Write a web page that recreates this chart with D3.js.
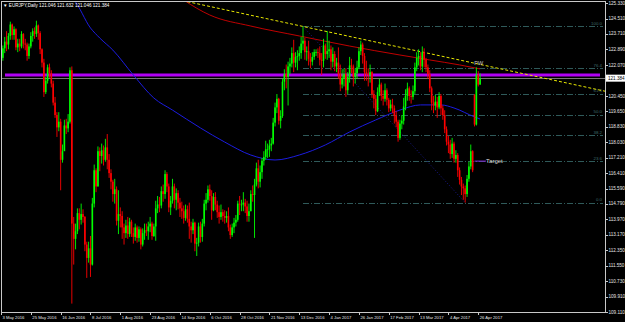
<!DOCTYPE html>
<html>
<head>
<meta charset="utf-8">
<script src="https://cdn.jsdelivr.net/npm/d3@7"></script>
<style>
  body { margin: 0; background: #000; }
  svg { display: block; }
  text { font-family: "Liberation Sans", Arial, sans-serif; }
</style>
</head>
<body>
<div id="chart"></div>
<script>
// EURJPY daily, 3 May 2016 .. 27 Apr 2017 (bar index 0..257)
const dateLabels = ["3 May 2016", "25 May 2016", "16 Jun 2016", "8 Jul 2016", "1 Aug 2016", "23 Aug 2016",
  "14 Sep 2016", "6 Oct 2016", "28 Oct 2016", "21 Nov 2016", "13 Dec 2016", "4 Jan 2017", "26 Jan 2017",
  "17 Feb 2017", "13 Mar 2017", "4 Apr 2017", "26 Apr 2017"];
const dateLabelBars = [0, 16, 32, 48, 64, 80, 96, 112, 128, 144, 160, 176, 192, 208, 224, 240, 256];

const priceTicks = [125.33, 124.51, 123.71, 122.89, 122.07, 120.45, 119.65, 118.83, 118.03, 117.21,
  116.41, 115.59, 114.79, 113.97, 113.17, 112.35, 111.55, 110.73, 109.91, 109.11];

const opens = [
  122.80,122.45,122.95,123.30,123.15,123.60,124.20,123.65,123.95,123.00,
  123.20,123.05,123.70,123.20,123.15,122.55,123.05,123.60,123.85,123.70,
  124.15,123.75,122.90,122.20,120.65,121.25,121.95,121.65,121.10,120.10,
  119.45,118.80,119.10,117.10,117.55,118.90,118.75,119.10,121.80,113.75,
  112.95,113.35,114.30,113.95,114.25,114.10,112.65,111.95,112.45,111.60,
  114.80,116.55,115.70,117.55,117.30,117.60,117.10,117.75,117.10,116.40,
  115.95,115.30,115.55,113.90,114.25,114.15,113.55,113.25,113.65,113.20,
  113.85,113.25,113.05,113.55,113.00,113.45,112.65,113.25,113.40,113.35,
  113.60,113.75,113.10,113.60,114.55,114.75,114.70,115.45,115.30,116.35,
  115.70,114.60,114.95,115.70,115.00,115.35,114.85,114.55,114.40,114.05,
  114.50,114.00,113.60,113.40,113.80,112.70,112.75,113.60,113.05,113.75,
  114.80,115.00,115.55,115.20,114.45,115.15,114.75,114.35,114.10,114.35,
  114.15,114.05,114.15,113.55,113.15,113.55,113.80,113.95,114.80,114.75,
  114.75,114.85,114.65,114.15,114.40,115.30,115.25,115.80,116.65,115.95,
  116.45,117.05,117.25,117.65,117.65,117.85,117.95,119.05,119.85,120.30,
  119.15,119.40,121.20,121.60,121.45,122.00,122.15,122.70,122.20,122.50,
  122.55,122.70,123.20,123.35,122.75,122.80,122.40,122.25,122.50,122.75,
  122.75,122.70,122.35,122.30,123.10,122.65,122.80,122.90,122.25,122.65,
  122.00,122.20,121.60,121.05,121.40,121.60,120.75,121.45,122.05,122.00,
  121.45,121.65,121.95,122.80,123.15,122.55,121.70,121.60,121.55,121.70,
  120.55,120.30,119.65,120.65,121.05,120.45,120.30,120.75,120.25,119.80,
  120.00,119.80,119.40,119.10,118.25,119.00,119.15,119.90,120.45,120.85,
  120.45,120.40,120.70,121.95,122.45,122.55,122.00,122.75,122.35,121.95,
  121.60,120.85,120.10,119.95,120.15,119.85,120.45,119.80,119.45,118.70,
  118.05,117.90,117.40,117.95,117.15,117.35,116.55,116.05,115.70,115.60,
  115.30,116.10,116.75,117.55,120.50,118.95,121.55,121.046];

const highs = [
  122.95,123.10,123.55,123.85,123.75,124.35,124.25,124.10,124.00,123.45,
  123.45,123.85,123.75,123.45,123.25,123.20,123.80,124.00,124.05,124.40,
  124.20,123.85,122.95,122.40,121.45,122.10,122.15,121.80,121.25,120.40,
  119.60,119.60,119.25,117.90,119.20,119.25,119.50,121.95,122.00,114.10,
  113.75,114.55,114.55,114.80,114.50,114.15,112.80,112.80,113.10,115.10,
  116.85,116.65,117.80,117.75,117.95,117.85,118.20,118.45,117.40,116.60,
  116.05,116.10,115.70,115.50,114.60,114.40,113.75,113.95,114.10,114.05,
  113.95,113.55,113.75,113.65,113.60,113.55,113.50,113.75,113.75,113.85,
  114.10,113.85,113.75,114.95,115.20,115.15,115.70,115.80,116.55,116.45,
  115.85,115.20,116.10,115.85,115.60,115.50,115.10,114.90,114.70,114.75,
  114.70,114.85,113.85,114.00,113.85,113.00,113.80,113.85,114.00,115.00,
  115.35,115.75,115.80,115.50,115.35,115.40,114.95,114.70,114.75,114.50,
  114.45,114.40,114.60,113.70,113.75,114.05,114.20,114.95,115.20,115.00,
  115.40,115.05,114.95,114.80,115.50,115.75,116.10,116.95,117.10,116.80,
  117.20,117.55,118.10,117.95,118.15,118.25,119.30,120.10,120.55,120.35,
  119.70,121.35,121.85,122.10,122.25,122.45,123.00,123.40,122.75,122.85,
  123.05,123.55,124.10,123.50,123.05,123.35,122.70,122.75,122.90,122.90,
  122.95,123.05,122.70,123.45,123.20,123.85,123.35,123.10,123.00,122.80,
  122.45,123.00,122.10,121.85,121.90,121.90,121.70,122.50,122.40,122.10,
  121.90,122.30,123.00,123.35,123.25,122.70,122.30,121.90,122.10,121.75,
  120.75,120.50,120.90,121.35,121.15,120.75,121.10,120.85,120.35,120.25,
  120.30,119.95,119.65,119.20,119.20,119.45,120.35,120.80,121.15,120.95,
  120.75,121.00,122.20,122.75,122.90,122.75,123.05,122.95,122.45,122.10,
  121.80,120.95,120.45,120.50,120.40,120.65,120.55,119.95,119.70,118.85,
  118.35,118.15,118.25,118.05,117.60,117.45,116.70,116.20,115.85,115.75,
  116.30,117.00,117.90,117.60,120.55,121.95,121.75,121.632];

const lows = [
  122.20,122.30,122.70,122.80,122.90,123.40,123.40,123.40,122.85,122.75,
  122.80,122.95,122.95,122.85,122.30,122.40,122.95,123.30,123.45,123.55,
  123.40,122.65,121.95,120.40,120.55,121.10,121.40,120.90,119.95,119.30,
  118.30,118.60,115.50,116.95,117.60,118.45,118.55,119.00,109.55,111.60,
  112.40,113.20,113.45,113.70,113.80,112.30,110.90,111.70,110.95,111.55,
  114.60,115.40,115.70,116.50,116.90,116.80,117.00,116.60,116.15,115.55,
  114.90,114.80,113.65,113.20,113.55,112.95,112.65,113.00,112.95,113.05,
  113.05,112.70,112.85,112.75,112.80,112.40,112.55,112.90,113.10,112.90,
  113.30,112.90,113.05,112.85,114.30,114.35,114.55,114.90,115.05,115.40,
  114.35,114.20,114.80,114.55,114.45,114.50,114.10,114.00,113.75,113.90,
  113.80,112.95,112.75,113.20,112.30,112.05,112.55,112.75,112.80,113.60,
  114.45,114.85,114.95,113.95,114.40,114.45,114.05,113.75,113.95,113.85,
  113.75,113.80,113.35,112.95,113.05,113.25,113.60,113.85,114.20,114.40,
  114.40,114.30,113.85,113.85,114.40,114.90,113.00,115.70,115.60,115.65,
  116.10,116.80,117.10,117.20,117.25,117.55,117.90,118.85,119.55,118.95,
  118.75,119.30,120.75,120.85,119.95,121.60,121.95,121.70,121.95,121.80,
  122.30,122.40,122.85,122.35,122.30,122.05,121.90,122.05,122.35,122.55,
  122.45,122.05,121.55,121.95,122.40,122.35,122.45,121.80,121.95,121.75,
  121.70,121.35,120.70,120.85,120.95,120.40,120.55,121.15,121.65,120.95,
  121.10,121.35,121.85,122.60,122.15,121.25,121.25,120.95,121.15,120.35,
  119.80,119.45,119.60,120.45,120.20,119.95,120.15,119.95,119.60,119.65,
  119.55,119.00,118.80,118.05,118.15,118.70,118.95,119.70,120.20,120.20,
  120.05,120.25,120.55,121.75,122.05,121.80,121.70,121.95,121.70,121.35,
  120.65,119.70,119.55,119.70,119.30,119.75,119.45,119.20,118.50,117.85,
  117.45,117.15,117.20,116.95,116.95,116.20,115.80,115.25,115.00,114.85,
  115.15,115.95,116.60,116.45,118.85,118.90,120.95,121.046];

const closes = [
  122.45,122.95,123.30,123.15,123.60,124.20,123.65,123.95,123.00,123.20,
  123.05,123.70,123.20,123.15,122.55,123.05,123.60,123.85,123.70,124.15,
  123.75,122.90,122.20,120.65,121.25,121.95,121.65,121.10,120.10,119.45,
  118.80,119.10,117.10,117.55,118.90,118.75,119.10,121.80,113.75,112.95,
  113.35,114.30,113.95,114.25,114.10,112.65,111.95,112.45,111.60,114.80,
  116.55,115.70,117.55,117.30,117.60,117.10,117.75,117.10,116.40,115.95,
  115.30,115.55,113.90,114.25,114.15,113.55,113.25,113.65,113.20,113.85,
  113.25,113.05,113.55,113.00,113.45,112.65,113.25,113.40,113.35,113.60,
  113.75,113.10,113.60,114.55,114.75,114.70,115.45,115.30,116.35,115.70,
  114.60,114.95,115.70,115.00,115.35,114.85,114.55,114.40,114.05,114.50,
  114.00,113.60,113.40,113.80,112.70,112.75,113.60,113.05,113.75,114.80,
  115.00,115.55,115.20,114.45,115.15,114.75,114.35,114.10,114.35,114.15,
  114.05,114.15,113.55,113.15,113.55,113.80,113.95,114.80,114.75,114.75,
  114.85,114.65,114.15,114.40,115.30,115.25,115.80,116.65,115.95,116.45,
  117.05,117.25,117.65,117.65,117.85,117.95,119.05,119.85,120.30,119.15,
  119.40,121.20,121.60,121.45,122.00,122.15,122.70,122.20,122.50,122.55,
  122.70,123.20,123.35,122.75,122.80,122.40,122.25,122.50,122.75,122.75,
  122.70,122.35,122.30,123.10,122.65,122.80,122.90,122.25,122.65,122.00,
  122.20,121.60,121.05,121.40,121.60,120.75,121.45,122.05,122.00,121.45,
  121.65,121.95,122.80,123.15,122.55,121.70,121.60,121.55,121.70,120.55,
  120.30,119.65,120.65,121.05,120.45,120.30,120.75,120.25,119.80,120.00,
  119.80,119.40,119.10,118.25,119.00,119.15,119.90,120.45,120.85,120.45,
  120.40,120.70,121.95,122.45,122.55,122.00,122.75,122.35,121.95,121.60,
  120.85,120.10,119.95,120.15,119.85,120.45,119.80,119.45,118.70,118.05,
  117.90,117.40,117.95,117.15,117.35,116.55,116.05,115.70,115.60,115.30,
  116.10,116.75,117.55,116.55,118.95,121.55,121.05,121.384];

// moving averages: [bar, price]
const maBlue = [[36,125.70],[39,125.49],[48,124.02],[53,123.49],[60,122.86],[71,121.55],[82,120.34],
  [92,119.71],[107,118.77],[120,118.03],[134,117.35],[147,117.09],[160,117.35],[174,117.88],
  [187,118.56],[201,119.19],[214,119.71],[225,119.98],[236,119.98],[243,119.82],[254,119.35],[257,119.24]];
const maRed = [[95,125.70],[98,125.49],[112,124.70],[134,124.12],[160,123.60],[187,123.07],
  [214,122.60],[230,122.34],[246,122.08],[257,121.87]];

// drawn objects
const trendLine = [[100, 125.40], [324, 120.70]];
const resistance = 121.55;
const bidPrice = 121.384;
const fibLabels = ["100.0", "76.4", "61.8", "50.0", "38.2", "23.6", "0.0"];
const fibPrices = [124.10, 121.91, 120.56, 119.47, 118.38, 117.03, 114.85];
const fibAnchors = [[162, 124.10], [249, 114.85]];
const header = "\u25BC EURJPY,Daily  121.046 121.632 121.046 121.384";

const width = 625, height = 322;
const plotL = 1, plotR = 605, plotT = 1, plotB = 312;

const svg = d3.select("#chart").append("svg")
  .attr("width", width).attr("height", height)
  .style("background", "#000");

const x = d3.scaleLinear().domain([0, 324]).range([plotL, plotR]);
const y = d3.scaleLinear().domain([109.11, 125.33]).range([plotB, 3]);

svg.append("clipPath").attr("id", "plotclip")
  .append("rect").attr("x", plotL).attr("y", plotT)
  .attr("width", plotR - plotL).attr("height", plotB - plotT);

const g = svg.append("g").attr("clip-path", "url(#plotclip)");

// fibonacci levels
const fibX0 = x(fibAnchors[0][0]);
g.selectAll(".fib").data(fibPrices).join("line")
  .attr("x1", fibX0).attr("x2", plotR - 2)
  .attr("y1", d => Math.round(y(d)) + 0.5).attr("y2", d => Math.round(y(d)) + 0.5)
  .attr("stroke", "#2f5a5a").attr("stroke-width", 1)
  .attr("stroke-dasharray", "6,2,1,2");
g.selectAll(".fibtxt").data(fibPrices).join("text")
  .attr("x", plotR - 3).attr("y", d => y(d) - 1.5)
  .attr("text-anchor", "end").attr("font-size", 4.4)
  .attr("fill", "#3f6b6b").text((d, i) => fibLabels[i]);
g.append("line")
  .attr("x1", x(fibAnchors[0][0])).attr("y1", y(fibAnchors[0][1]))
  .attr("x2", x(fibAnchors[1][0])).attr("y2", y(fibAnchors[1][1]))
  .attr("stroke", "#1a1a8c").attr("stroke-width", 1).attr("stroke-dasharray", "1,2");

// bid line
g.append("line")
  .attr("x1", plotL).attr("x2", plotR)
  .attr("y1", Math.round(y(bidPrice)) + 0.5).attr("y2", Math.round(y(bidPrice)) + 0.5)
  .attr("stroke", "#767676").attr("stroke-width", 1);

// horizontal level
g.append("line")
  .attr("x1", 5).attr("x2", 600)
  .attr("y1", y(resistance)).attr("y2", y(resistance))
  .attr("stroke", "#b000f5").attr("stroke-width", 3);

// moving averages
const maLine = d3.line().x(d => x(d[0])).y(d => y(d[1])).curve(d3.curveMonotoneX);
g.append("path").attr("d", maLine(maBlue))
  .attr("fill", "none").attr("stroke", "#1c1ce0").attr("stroke-width", 1);
g.append("path").attr("d", maLine(maRed))
  .attr("fill", "none").attr("stroke", "#c00000").attr("stroke-width", 1);

// trend line
g.append("line")
  .attr("x1", x(trendLine[0][0])).attr("y1", y(trendLine[0][1]))
  .attr("x2", x(trendLine[1][0])).attr("y2", y(trendLine[1][1]))
  .attr("stroke", "#e8e800").attr("stroke-width", 1).attr("stroke-dasharray", "3,2");

// candles
const bars = d3.range(closes.length);
const col = i => closes[i] >= opens[i] ? "#00ff00" : "#ff0000";
g.selectAll(".wick").data(bars).join("line")
  .attr("x1", i => x(i)).attr("x2", i => x(i))
  .attr("y1", i => y(highs[i])).attr("y2", i => y(lows[i]))
  .attr("stroke", col).attr("stroke-width", 0.9);
g.selectAll(".body").data(bars).join("rect")
  .attr("x", i => x(i) - 0.8).attr("width", 1.6)
  .attr("y", i => y(Math.max(opens[i], closes[i])))
  .attr("height", i => Math.max(0.8, Math.abs(y(opens[i]) - y(closes[i]))))
  .attr("fill", col);

// annotations
g.append("text").attr("x", x(255) - 2).attr("y", y(121.98) - 1.5)
  .attr("font-size", 5.5).attr("fill", "#c8c8c8").text("PW");
g.append("line")
  .attr("x1", x(254)).attr("x2", x(257) + 6)
  .attr("y1", y(fibPrices[5])).attr("y2", y(fibPrices[5]))
  .attr("stroke", "#8a2be2").attr("stroke-width", 1);
g.append("text").attr("x", x(257) + 6).attr("y", y(fibPrices[5]) + 2)
  .attr("font-size", 6).attr("fill", "#dcdcdc").text("Target");

// frame
svg.append("rect")
  .attr("x", plotL + 0.5).attr("y", plotT + 0.5)
  .attr("width", plotR - plotL).attr("height", plotB - plotT)
  .attr("fill", "none").attr("stroke", "#c8c8c8").attr("stroke-width", 1);

// price axis
const yAxis = svg.append("g");
yAxis.selectAll("line").data(priceTicks).join("line")
  .attr("x1", plotR).attr("x2", plotR + 3)
  .attr("y1", d => Math.round(y(d)) + 0.5).attr("y2", d => Math.round(y(d)) + 0.5)
  .attr("stroke", "#c8c8c8");
yAxis.selectAll("text").data(priceTicks).join("text")
  .attr("x", plotR + 3.5).attr("y", d => y(d) + 1.6)
  .attr("font-size", 4.6).attr("fill", "#e6e6e6")
  .text(d => d.toFixed(3));
svg.append("rect").attr("x", plotR + 1).attr("y", y(bidPrice) - 3.5)
  .attr("width", 19).attr("height", 7).attr("fill", "#ffffff");
svg.append("text").attr("x", plotR + 3).attr("y", y(bidPrice) + 1.7)
  .attr("font-size", 4.6).attr("fill", "#000").text(bidPrice.toFixed(3));

// time axis
const xAxis = svg.append("g");
xAxis.selectAll("line").data(dateLabelBars).join("line")
  .attr("x1", d => Math.round(x(d)) + 0.5).attr("x2", d => Math.round(x(d)) + 0.5)
  .attr("y1", plotB).attr("y2", plotB + 3)
  .attr("stroke", "#c8c8c8");
xAxis.selectAll("text").data(dateLabelBars).join("text")
  .attr("x", d => x(d) + 1.5).attr("y", plotB + 6.5)
  .attr("font-size", 4.2).attr("fill", "#e6e6e6")
  .text((d, i) => dateLabels[i]);

// header
svg.append("text").attr("x", 3).attr("y", 7)
  .attr("font-size", 4.6).attr("fill", "#ffffff").text(header);
</script>
</body>
</html>
